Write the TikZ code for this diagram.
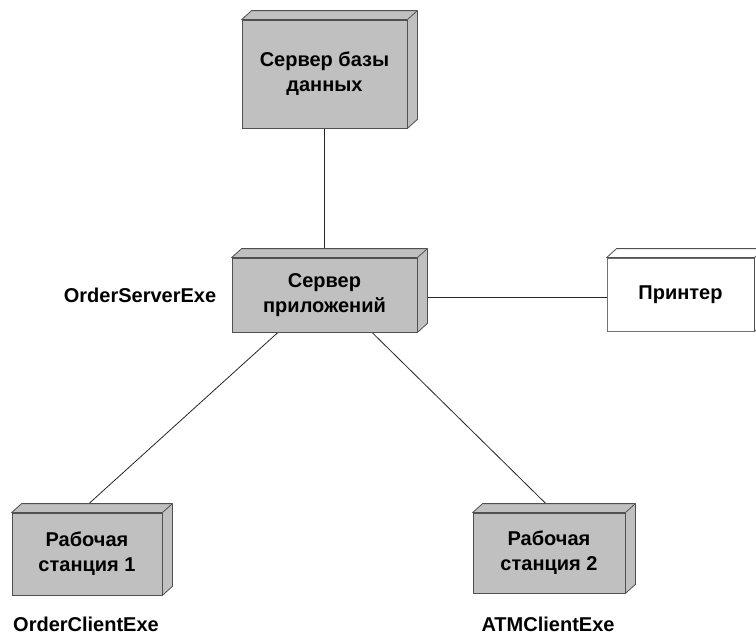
\documentclass[tikz,border=0pt]{standalone}
\usepackage{fontspec}
\setmainfont{Liberation Sans}
\usetikzlibrary{calc}
\pgfdeclarelayer{bg}
\pgfdeclarelayer{paper}
\pgfsetlayers{paper,bg,main}
\definecolor{boxgray}{HTML}{C0C0C0}
\definecolor{edgegray}{HTML}{505050}
\newcommand\boxdepth[2]{%
  \filldraw[fill=#2, draw=edgegray, line width=0.8pt, line join=round]
    (#1.north west) -- ++(10,-9) -- ($(#1.north east)+(10,-9)$)
    -- ($(#1.south east)+(10,-9)$) -- (#1.south east) -- (#1.north east) -- cycle;
  \draw[draw=edgegray, line width=0.8pt] (#1.north east) -- ++(10,-9);}
\begin{document}
\begin{tikzpicture}[x=1pt,y=-1pt,
  dnode/.style={draw=edgegray, fill=boxgray, line width=0.8pt, inner sep=0pt,
    align=center, font=\fontsize{20}{25}\selectfont\bfseries},
  lbl/.style={font=\fontsize{20}{24}\selectfont\bfseries, inner sep=0pt},
  conn/.style={draw=black!85, line width=0.8pt}]
\useasboundingbox (0,0) rectangle (756,635);
\clip (0,0) rectangle (756,635);
\begin{pgfonlayer}{paper}
\fill[white] (0,0) rectangle (756,635);
\end{pgfonlayer}

\node[dnode, minimum width=165pt, minimum height=108pt] (db) at (324.5,74) {Сервер базы\\данных};
\node[dnode, minimum width=185pt, minimum height=74pt] (app) at (324.5,295) {Сервер\\приложений};
\node[dnode, fill=white, draw=black!55, minimum width=147pt, minimum height=73pt] (prn) at (680.5,294.5) {Принтер};
\node[dnode, minimum width=150pt, minimum height=82pt] (ws1) at (87,554) {Рабочая\\станция 1};
\node[dnode, minimum width=152pt, minimum height=80pt] (ws2) at (549,553) {Рабочая\\станция 2};

\boxdepth{db}{boxgray}
\boxdepth{app}{boxgray}
\boxdepth{prn}{white}
\boxdepth{ws1}{boxgray}
\boxdepth{ws2}{boxgray}

\node[lbl] (lapp) at (140,295) {OrderServerExe};
\node[lbl] (lws1) at (86,624) {OrderClientExe};
\node[lbl] (lws2) at (548,624) {ATMClientExe};

\begin{pgfonlayer}{bg}
\draw[conn] (db.south) -- (app.north);
\draw[conn] ([yshift=-2pt]app.east) -- ([yshift=-2pt]app.east -| prn.west);
\draw[conn] ([xshift=-46.5pt]app.south) -- ([xshift=-8pt]ws1.north);
\draw[conn] ([xshift=47.5pt]app.south) -- ([xshift=6pt]ws2.north);
\end{pgfonlayer}
\end{tikzpicture}
\end{document}
